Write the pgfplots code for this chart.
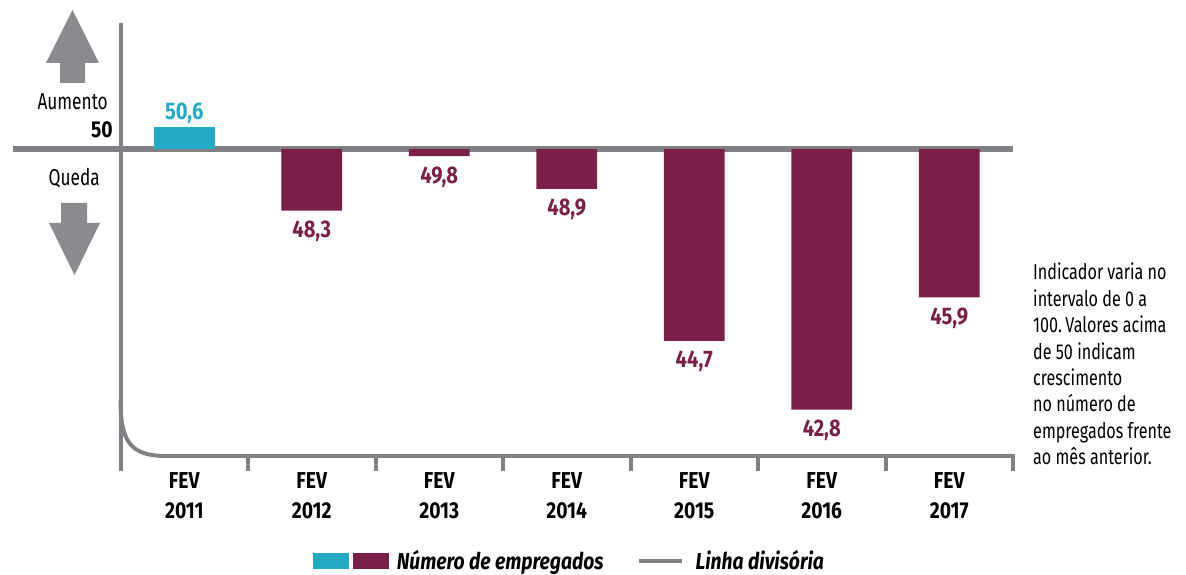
\documentclass[border=0pt]{standalone}
\usepackage{pgfplots}
\pgfplotsset{compat=1.18}
\usepackage{pgfplotstable}
\usepackage{fontspec}
\setmainfont{Fira Sans}[FakeStretch=0.84]
\newfontfamily\notefont{Fira Sans}[FakeStretch=0.75]
\definecolor{cyanbar}{HTML}{24AAC3}
\definecolor{maroonbar}{HTML}{7A1F47}
\definecolor{divgray}{HTML}{818185}
\definecolor{arrowgray}{HTML}{8B8B8F}

\pgfplotstableread{
x v lab
0 50.6 50,6
}\up
\pgfplotstableread{
x v lab
1 48.3 48,3
2 49.8 49,8
3 48.9 48,9
4 44.7 44,7
5 42.8 42,8
6 45.9 45,9
}\down

\begin{document}
\begin{tikzpicture}
\useasboundingbox (0,0) rectangle (1186pt,575pt);
% arrows
\fill[arrowgray] (60pt,492pt) -- (60pt,512pt) -- (46pt,512pt) -- (72.5pt,565pt) -- (99pt,512pt) -- (85pt,512pt) -- (85pt,492pt) -- cycle;
\fill[arrowgray] (61pt,372pt) -- (87pt,372pt) -- (87pt,352pt) -- (100pt,352pt) -- (74.5pt,300pt) -- (49pt,352pt) -- (61pt,352pt) -- cycle;
\node[anchor=base east, inner sep=0pt, font=\notefont\fontsize{23}{23}\selectfont] at (108pt,465pt) {Aumento};
\node[anchor=base east, inner sep=0pt, font=\fontsize{23}{23}\selectfont\bfseries] at (113pt,437pt) {50};
\node[anchor=base east, inner sep=0pt, font=\notefont\fontsize{23}{23}\selectfont] at (100pt,389pt) {Queda};
% note
\begin{scope}[every node/.style={anchor=base west, inner sep=0pt, font=\notefont\fontsize{21.5}{21.5}\selectfont}]
\node at (1033pt,295pt) {Indicador varia no};
\node at (1033pt,268.6pt) {intervalo de 0 a};
\node at (1033pt,242.2pt) {100.\,Valores acima};
\node at (1033pt,215.8pt) {de 50 indicam};
\node at (1033pt,189.4pt) {crescimento};
\node at (1033pt,163pt) {no número de};
\node at (1033pt,136.6pt) {empregados frente};
\node at (1033pt,110.2pt) {ao mês anterior.};
\end{scope}
\begin{axis}[
  at={(120.5pt,104pt)}, anchor=south west,
  x=127.5pt, y=36.2pt,
  xmin=-0.5, xmax=6.5, ymin=-8.895, ymax=3.481,
  axis line style={draw=none},
  major tick length=0pt,
  ytick=\empty,
  xtick={0,1,2,3,4,5,6},
  xticklabels={{FEV\\2011},{FEV\\2012},{FEV\\2013},{FEV\\2014},{FEV\\2015},{FEV\\2016},{FEV\\2017}},
  xticklabel style={align=center, inner sep=0pt, font=\fontsize{23}{30}\selectfont\bfseries, yshift=-1pt},
  clip=false,
  legend style={at={(0.5030,-0.2010)}, anchor=center, draw=none, fill=none,
    font=\fontsize{23}{23}\selectfont\bfseries\itshape, legend columns=2,
    /tikz/every even column/.append style={column sep=31pt}, inner sep=0pt},
  legend cell align=left,
  reverse legend,
]
% frame lines
\draw[divgray, line width=4pt] (axis cs:-0.5,3.481) -- (axis cs:-0.5,-8.895);
\draw[divgray, line width=4pt] (axis cs:-0.5,-6.93) .. controls (axis cs:-0.5,-8.1) and (axis cs:-0.42,-8.48) .. (axis cs:-0.14,-8.48) -- (axis cs:6.5,-8.48);
\draw[divgray, line width=4pt] (axis cs:0.5,-8.48) -- (axis cs:0.5,-8.895)
  (axis cs:1.5,-8.48) -- (axis cs:1.5,-8.895)
  (axis cs:2.5,-8.48) -- (axis cs:2.5,-8.895)
  (axis cs:3.5,-8.48) -- (axis cs:3.5,-8.895)
  (axis cs:4.5,-8.48) -- (axis cs:4.5,-8.895)
  (axis cs:5.5,-8.48) -- (axis cs:5.5,-8.895)
  (axis cs:6.5,-8.42) -- (axis cs:6.5,-8.895);
% dividing line at 50
\addplot[divgray, line width=6pt,
  legend image code/.code={\draw[divgray, line width=4pt] (0pt,0pt) -- (43pt,0pt); \path (52pt,0pt);}]
  coordinates {(-1.341,0) (6.5,0)};
\addlegendentry{Linha divisória}
% bars
\addplot[ybar, bar width=0.478, bar shift=0pt, fill=cyanbar, draw=none, forget plot,
  point meta=explicit symbolic, nodes near coords,
  every node near coord/.style={anchor=base, yshift=8pt, inner sep=0pt,
    font=\fontsize{24}{24}\selectfont\bfseries, text=cyanbar}]
  table[x=x, y expr=\thisrow{v}-50, meta=lab] {\up};
\addplot[ybar, bar width=0.478, bar shift=0pt, fill=maroonbar, draw=none,
  point meta=explicit symbolic, nodes near coords,
  every node near coord/.style={anchor=north, yshift=-10pt, inner sep=0pt,
    font=\fontsize{24}{24}\selectfont\bfseries, text=maroonbar},
  legend image code/.code={\fill[cyanbar] (0pt,-8pt) rectangle (36pt,8pt);
    \fill[maroonbar] (40pt,-8pt) rectangle (76pt,8pt); \path (82pt,0pt);}]
  table[x=x, y expr=\thisrow{v}-50, meta=lab] {\down};
\addlegendentry{Número de empregados}
\end{axis}
\end{tikzpicture}
\end{document}
